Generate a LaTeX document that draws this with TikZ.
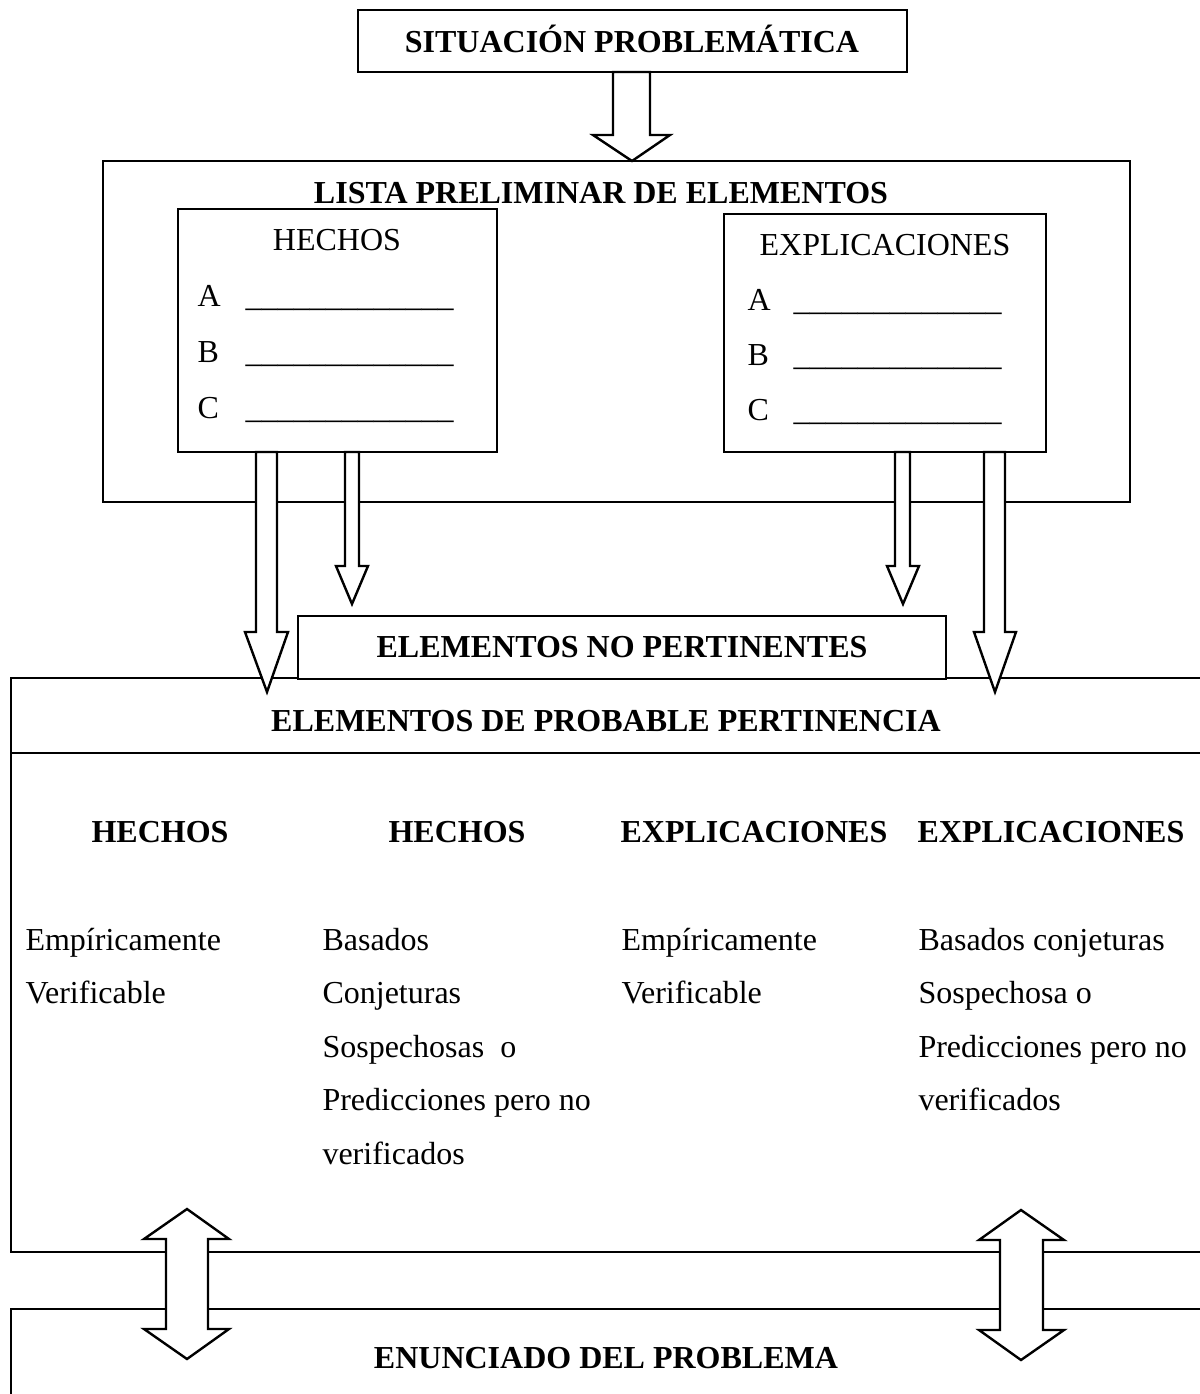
\documentclass[tikz,border=0pt]{standalone}
\usepackage{fontspec}
\setmainfont{Liberation Serif}
\begin{document}
\begin{tikzpicture}[x=0.375pt,y=-0.375pt,
  frame/.style={draw=black, line width=0.9pt},
  blockarrow/.style={draw=black, fill=white, line width=0.9pt, line join=miter},
  head/.style={font=\fontsize{12}{14}\selectfont\bfseries, inner sep=0pt, anchor=base},
  txt/.style={font=\fontsize{12}{14}\selectfont, inner sep=0pt, anchor=base west},
  ctxt/.style={font=\fontsize{12}{14}\selectfont, inner sep=0pt, anchor=base},
]
\useasboundingbox (0,0) rectangle (1200,1394);

% --- top box ---
\draw[frame] (358,10) coordinate (sitNW) rectangle (907,72) coordinate (sitSE);
\node[head] (sit) at (632,52) {SITUACIÓN PROBLEMÁTICA};

% --- preliminary list ---
\draw[frame] (103,161) coordinate (listaNW) rectangle (1130,502) coordinate (listaSE);
\node[head] (lista) at (601,203) {LISTA PRELIMINAR DE ELEMENTOS};

\draw[frame] (178,209) coordinate (hechNW) rectangle (497,452) coordinate (hechSE);
\node[ctxt] (hech) at (337,250) {HECHOS};
\foreach \l/\y in {A/306,B/362,C/418}{
  \node[txt] (h\l) at (197,\y) {\l};
  \node[txt] (hl\l) at (245,\y) {\_\_\_\_\_\_\_\_\_\_\_\_\_};
}

\draw[frame] (724,214) coordinate (explNW) rectangle (1046,452) coordinate (explSE);
\node[ctxt] (expl) at (885,255) {EXPLICACIONES};
\foreach \l/\y in {A/310,B/365,C/420}{
  \node[txt] (e\l) at (747,\y) {\l};
  \node[txt] (el\l) at (793,\y) {\_\_\_\_\_\_\_\_\_\_\_\_\_};
}

% --- probable pertinence block ---
\draw[frame] (1200,678) -- (11,678) -- (11,1252) -- (1200,1252);
\draw[frame] (11,753) -- (1200,753);
\node[head] (prob) at (606,731) {ELEMENTOS DE PROBABLE PERTINENCIA};

\node[head] (col1) at (160,842) {HECHOS};
\node[head] (col2) at (457,842) {HECHOS};
\node[head] (col3) at (754,842) {EXPLICACIONES};
\node[head] (col4) at (1051,842) {EXPLICACIONES};

\foreach \t [count=\i] in {Empíricamente,Verificable}
  \node[txt] (ca\i) at (25,{950+53.5*(\i-1)}) {\t};
\foreach \t [count=\i] in {Basados,Conjeturas,Sospechosas\ \ o,Predicciones pero no,verificados}
  \node[txt] (cb\i) at (322,{950+53.5*(\i-1)}) {\t};
\foreach \t [count=\i] in {Empíricamente,Verificable}
  \node[txt] (cc\i) at (621,{950+53.5*(\i-1)}) {\t};
\foreach \t [count=\i] in {Basados conjeturas,Sospechosa o,Predicciones pero no,verificados}
  \node[txt] (cd\i) at (918,{950+53.5*(\i-1)}) {\t};

% --- statement block ---
\draw[frame] (1200,1309) -- (11,1309) -- (11,1394);
\node[head] (enun) at (606,1368) {ENUNCIADO DEL PROBLEMA};

% --- non pertinent elements ---
\draw[frame, fill=white] (298,616) coordinate (noNW) rectangle (946,679) coordinate (noSE);
\node[head] (nopert) at (622,657) {ELEMENTOS NO PERTINENTES};

% --- block arrows ---
% situation -> list
\draw[blockarrow] (613,72) -- (613,135) -- (593,135) -- (632,161) -- (670,135) -- (650,135) -- (650,72) -- cycle;
% facts -> probable pertinence (long)
\draw[blockarrow] (256,452) -- (256,632) -- (245,632) -- (267,692) -- (288,632) -- (277,632) -- (277,452) -- cycle;
% facts -> non pertinent
\draw[blockarrow] (345,452) -- (345,566) -- (336,566) -- (352,604) -- (368,566) -- (359,566) -- (359,452) -- cycle;
% explanations -> non pertinent
\draw[blockarrow] (895,452) -- (895,566) -- (887,566) -- (903,604) -- (919,566) -- (910,566) -- (910,452) -- cycle;
% explanations -> probable pertinence (long)
\draw[blockarrow] (984,452) -- (984,632) -- (974,632) -- (995,692) -- (1016,632) -- (1005,632) -- (1005,452) -- cycle;

% two-way arrows between pertinence and statement
\draw[blockarrow] (187,1209) -- (229,1239) -- (208,1239) -- (208,1329) -- (229,1329) -- (187,1359)
  -- (144,1329) -- (166,1329) -- (166,1239) -- (144,1239) -- cycle;
\draw[blockarrow] (1021,1210) -- (1064,1240) -- (1043,1240) -- (1043,1330) -- (1064,1330) -- (1021,1360)
  -- (979,1330) -- (1000,1330) -- (1000,1240) -- (979,1240) -- cycle;
\end{tikzpicture}
\end{document}
